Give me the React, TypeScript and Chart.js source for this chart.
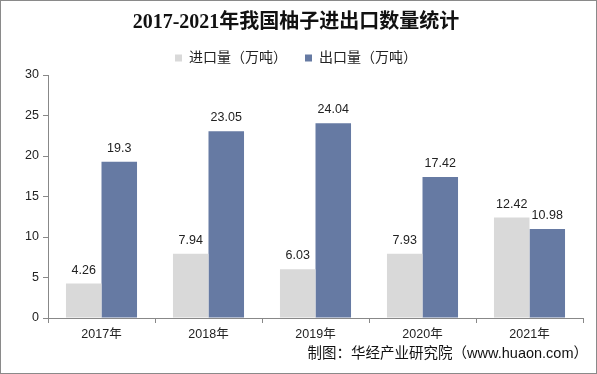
import React, { useEffect, useRef } from "react";
import { Chart, registerables } from "chart.js";

Chart.register(...registerables);

const categories = ["2017年", "2018年", "2019年", "2020年", "2021年"];
const importValues = [4.26, 7.94, 6.03, 7.93, 12.42];
const exportValues = [19.3, 23.05, 24.04, 17.42, 10.98];
const seriesNames = ["进口量（万吨）", "出口量（万吨）"];
const titleText = "2017-2021年我国柚子进出口数量统计";
const sourceText = "制图：华经产业研究院（www.huaon.com）";

const SANS = "'Liberation Sans', 'Noto Sans CJK SC', sans-serif";

const valueLabels = {
  id: "valueLabels",
  afterDatasetsDraw(chart: any) {
    const { ctx } = chart;
    ctx.save();
    ctx.font = `12.5px ${SANS}`;
    ctx.fillStyle = "#222";
    ctx.textAlign = "center";
    ctx.textBaseline = "bottom";
    chart.data.datasets.forEach((ds: any, i: number) => {
      const meta = chart.getDatasetMeta(i);
      meta.data.forEach((bar: any, j: number) => {
        ctx.fillText(String(ds.data[j]), bar.x, bar.y - 7);
      });
    });
    ctx.restore();
  },
};

const sourceNote = {
  id: "sourceNote",
  afterDraw(chart: any) {
    const { ctx, width } = chart;
    ctx.save();
    ctx.font = `14.5px ${SANS}`;
    ctx.fillStyle = "#111";
    ctx.textAlign = "right";
    ctx.textBaseline = "middle";
    ctx.fillText(sourceText, width - 8, 353);
    ctx.restore();
  },
};

export default function App() {
  const ref = useRef<HTMLCanvasElement>(null);
  useEffect(() => {
    const chart = new Chart(ref.current!, {
      type: "bar",
      data: {
        labels: categories,
        datasets: [
          { label: seriesNames[0], data: importValues, backgroundColor: "#d9d9d9" },
          { label: seriesNames[1], data: exportValues, backgroundColor: "#667aa3" },
        ],
      },
      options: {
        animation: false,
        responsive: false,
        devicePixelRatio: 1,
        layout: { padding: { left: 8, right: 13, top: 0, bottom: 27 } },
        datasets: { bar: { categoryPercentage: 0.664, barPercentage: 1 } },
        plugins: {
          title: {
            display: true,
            text: titleText,
            color: "#111",
            font: { family: "'Liberation Serif', 'Noto Sans CJK SC', serif", size: 20, weight: "bold", lineHeight: 1 },
            padding: { top: 12, bottom: 0 },
          },
          legend: {
            display: true,
            labels: {
              boxWidth: 7,
              boxHeight: 7,
              color: "#222",
              font: { family: SANS, size: 14 },
              padding: 18,
            },
          },
          tooltip: { enabled: false },
        },
        scales: {
          x: {
            grid: { display: true, drawOnChartArea: false, offset: true, tickLength: 5, color: "#888" },
            border: { color: "#888" },
            ticks: { color: "#222", font: { family: SANS, size: 12.5 }, padding: 4 },
          },
          y: {
            min: 0,
            max: 30,
            grid: { display: true, drawOnChartArea: false, tickLength: 5, color: "#888" },
            border: { color: "#888" },
            ticks: { stepSize: 5, color: "#222", font: { family: SANS, size: 12.5 }, padding: 4 },
            afterFit: (s: any) => { s.width = 39; },
          },
        },
      },
      plugins: [valueLabels, sourceNote],
    });
    return () => chart.destroy();
  }, []);
  return (
    <div
      style={{
        position: "fixed",
        left: 0,
        top: 0,
        width: 597,
        height: 374,
        boxSizing: "border-box",
        border: "1px solid #8a8a8a",
        background: "#fff",
      }}
    >
      <canvas ref={ref} width={595} height={372} style={{ display: "block" }} />
    </div>
  );
}
